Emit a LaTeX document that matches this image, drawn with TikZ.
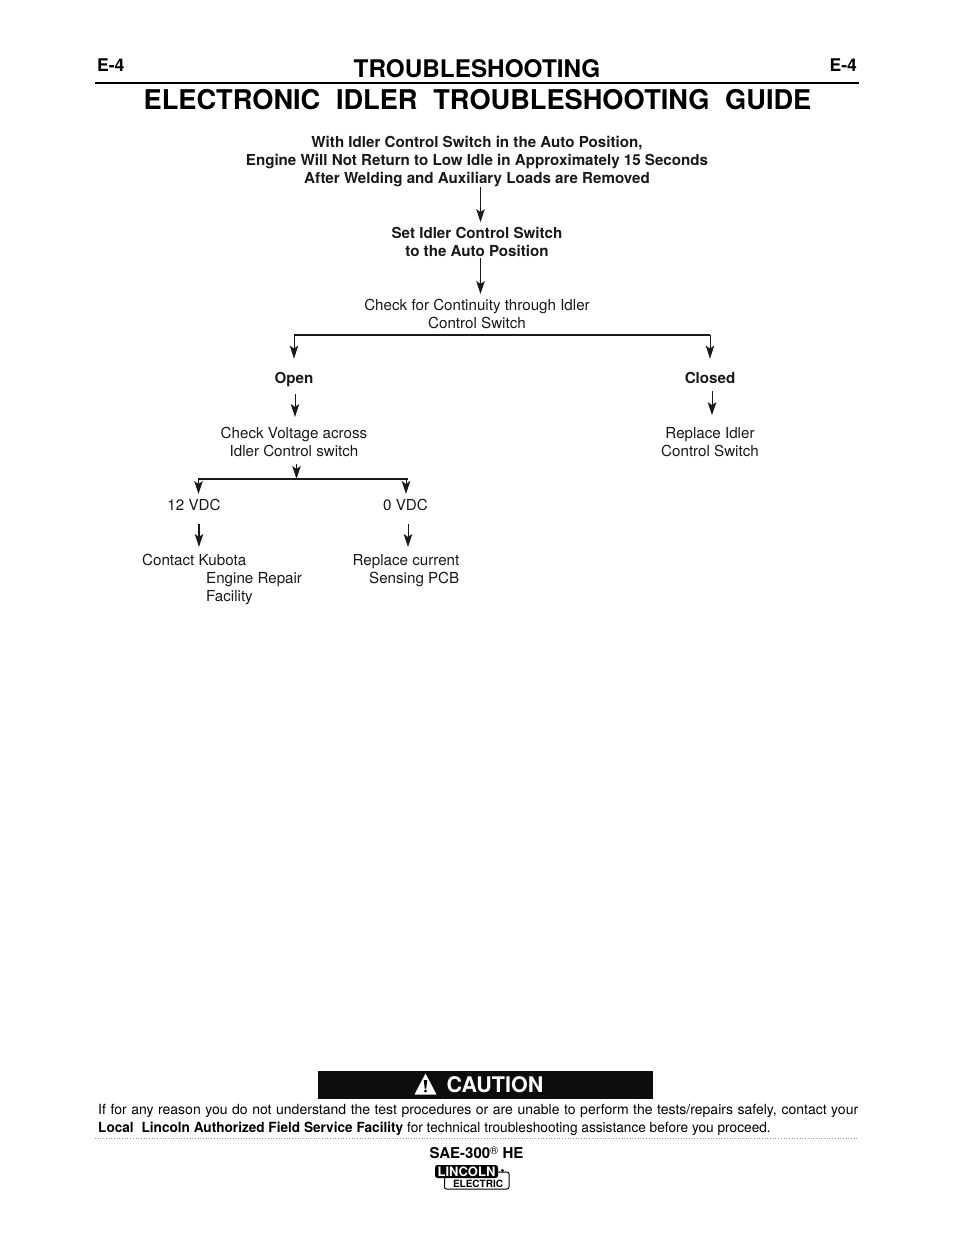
\documentclass[tikz,border=0pt]{standalone}
\usepackage{fontspec}
\setmainfont{TeX Gyre Heros}
\usetikzlibrary{arrows.meta}
\tikzset{
 x=1pt,y=-1pt,
 body/.style={inner sep=0pt,align=center,font=\fontsize{15.15}{18}\selectfont,text=black!90},
 bodyb/.style={body,font=\fontsize{15.15}{18}\selectfont\bfseries},
 arr/.style={draw=black!90,line width=1pt,-{Stealth[length=13pt,width=8.5pt,inset=3pt]}},
 bus/.style={draw=black!90,line width=1.7pt},
}
\begin{document}
\begin{tikzpicture}
\useasboundingbox[fill=white] (0,0) rectangle (954,1235);
% header
\node[inner sep=0pt,anchor=west,font=\fontsize{17.5}{18}\selectfont\bfseries] (eL) at (97,65) {E-4};
\node[inner sep=0pt,anchor=east,font=\fontsize{17.5}{18}\selectfont\bfseries] (eR) at (857,65) {E-4};
\node[inner sep=0pt,font=\fontsize{24.3}{28}\selectfont\bfseries] (tr) at (477,68.7) {TROUBLESHOOTING};
\draw[line width=2pt] (95,82.5) -- (859,82.5);
\node[inner sep=0pt,font=\fontsize{27.2}{32}\selectfont\bfseries] (ti) at (477.5,99.3) {ELECTRONIC\hspace{.3em} IDLER\hspace{.3em} TROUBLESHOOTING\hspace{.3em} GUIDE};
% flow nodes
\node[bodyb] (hdr) at (477,162) {With Idler Control Switch in the Auto Position,\\Engine Will Not Return to Low Idle in Approximately 15 Seconds\\After Welding and Auxiliary Loads are Removed};
\node[bodyb] (set) at (477,242) {Set Idler Control Switch\\to the Auto Position};
\node[body] (chk) at (477,314) {Check for Continuity through Idler\\Control Switch};
\node[bodyb,anchor=base] (open) at (294,383) {Open};
\node[bodyb,anchor=base] (closed) at (710,383) {Closed};
\node[body] (volt) at (294,442) {Check Voltage across\\Idler Control switch};
\node[body] (repl) at (710,442) {Replace Idler\\Control Switch};
\node[body] (v12) at (194,505) {12 VDC};
\node[body] (v0) at (405.5,505) {0 VDC};
\node[body,align=left,anchor=north west] (kub) at (142,554) {Contact Kubota\\\hspace*{64pt}Engine Repair\\\hspace*{64pt}Facility};
\node[body,align=right,anchor=north east] (pcb) at (459.5,554) {Replace current\\Sensing PCB};
% buses and arrow guides
\coordinate (bL) at (294,335);
\coordinate (bR) at (710,335);
\coordinate (cL) at (198,479);
\coordinate (cR) at (408,479);
\coordinate (cM) at (296.5,479);
\coordinate (kx) at (199,0);
\coordinate (px) at (408,0);
\draw[bus] (bL) -- (bR);
\draw[bus] (cL) -- (cR);
% arrows
\draw[arr] ([xshift=3.5pt,yshift=1pt]hdr.south) -- ([xshift=3.5pt,yshift=5pt]set.north);
\draw[arr] ([xshift=3.5pt,yshift=-1pt]set.south) -- ([xshift=3.5pt,yshift=5pt]chk.north);
\draw[arr] (bL) -- ([yshift=13pt]open.north);
\draw[arr] (bR) -- ([yshift=13pt]closed.north);
\draw[arr] ([xshift=1pt,yshift=-7pt]open.south) -- ([xshift=1pt,yshift=10pt]volt.north);
\draw[arr] ([xshift=2pt,yshift=-8pt]closed.south) -- ([xshift=2pt,yshift=12pt]repl.north);
\draw[arr] ([xshift=2.5pt,yshift=-7pt]volt.south) -- (cM);
\draw[arr] ([xshift=.5pt]cL) -- ([xshift=4.5pt,yshift=5pt]v12.north);
\draw[arr] ([xshift=-2pt]cR) -- ([xshift=.5pt,yshift=5pt]v0.north);
\draw[arr,line width=1.5pt,shorten >=7pt] ([xshift=5pt,yshift=-13pt]v12.south) -- (kub.north -| kx);
\draw[arr,line width=.8pt,shorten >=7pt] ([xshift=2.5pt,yshift=-13pt]v0.south) -- (pcb.north -| px);
% caution
\fill[black!95] (318,1071) rectangle (653,1099);
\fill[white,rounded corners=.5pt] (414.5,1094.5) -- (425.5,1073.5) -- (436.5,1094.5) -- cycle;
\fill[black] (423.8,1080) -- (427.2,1080) -- (426.3,1088.5) -- (424.7,1088.5) -- cycle;
\fill[black] (425.5,1091) circle (1.6);
\node[inner sep=0pt,text=white,anchor=west,font=\fontsize{21.5}{25}\selectfont\bfseries] (cau) at (446.5,1085) {CAUTION};
\node[inner sep=0pt,anchor=west,font=\fontsize{14}{16}\selectfont] (l1) at (98,1110.5) {\makebox[760pt][s]{If for any reason you do not understand the test procedures or are unable to perform the tests/repairs safely, contact your}};
\node[inner sep=0pt,anchor=west,font=\fontsize{14}{16}\selectfont] (l2) at (98,1128.5) {\scalebox{.972}[1]{\textbf{Local\hspace{.3em} Lincoln Authorized Field Service Facility}} \scalebox{.977}[1]{for technical troubleshooting assistance before you proceed.}};
\draw[black!40,line width=.7pt,dotted] (95,1138.5) -- (859,1138.5);
\node[inner sep=0pt,font=\fontsize{15}{16}\selectfont\bfseries] (sae) at (476.5,1153) {SAE-300\raisebox{4pt}{\fontsize{11}{11}\selectfont\normalfont\textregistered} HE};
% logo
\draw[black,line width=1pt,fill=white,rounded corners=2pt] (444.5,1172) rectangle (509,1189);
\fill[black,rounded corners=2.5pt] (435,1165) rectangle (498,1178);
\fill[black] (502.5,1170.5) circle (1.7);
\node[inner sep=0pt,text=white,font=\fontsize{13}{14}\selectfont\bfseries] (lin) at (466.5,1171.5) {LINCOLN};
\node[inner sep=0pt,font=\fontsize{10}{10}\selectfont\bfseries] (ele) at (478,1183.5) {ELECTRIC};
\end{tikzpicture}
\end{document}
